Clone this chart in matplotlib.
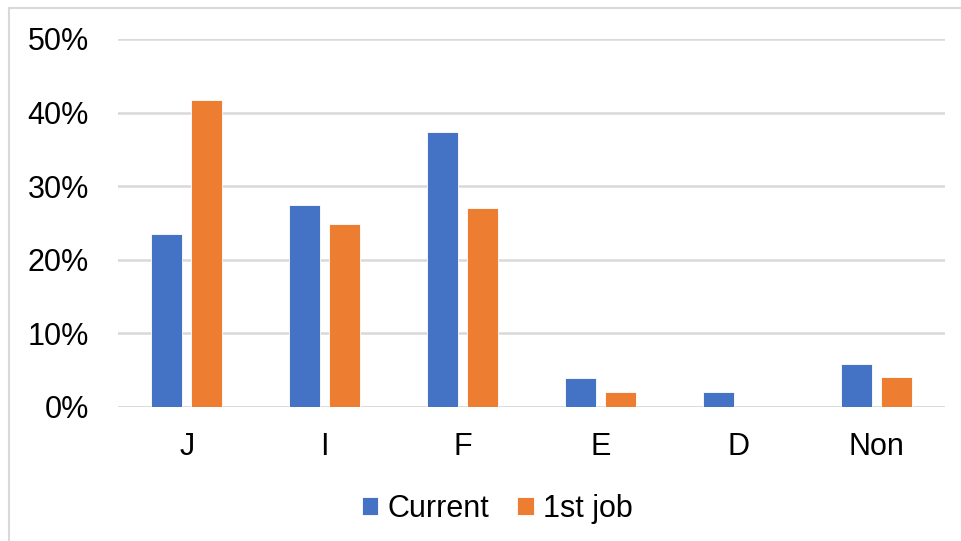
import matplotlib
matplotlib.use("Agg")
import matplotlib.pyplot as plt
import numpy as np
from matplotlib.patches import Rectangle, Patch
from matplotlib.ticker import FuncFormatter, MultipleLocator

categories = ["J", "I", "F", "E", "D", "Non"]
current = [23.5, 27.4, 37.3, 3.9, 2.0, 5.9]
first_job = [41.7, 24.9, 27.0, 2.0, 0.0, 4.1]
series_names = ["Current", "1st job"]

BLUE = "#4472C4"
ORANGE = "#ED7D31"
GRID = "#D9D9D9"

plt.rcParams["font.family"] = ["Liberation Sans", "DejaVu Sans"]

W, H = 961, 541
fig = plt.figure(figsize=(W / 100, H / 100), dpi=100)

# chart frame
fig.patches.append(Rectangle((9 / W, -0.1), 1.2, 1 - 8 / H + 0.1,
                             transform=fig.transFigure, fill=False,
                             edgecolor=GRID, linewidth=1.5, zorder=0))

ax = fig.add_axes([118 / W, 134 / H, (945 - 118) / W, (407 - 39) / H])

x = np.arange(len(categories))
bw = 0.225
off = 0.145
ax.bar(x - off, current, width=bw, color=BLUE, edgecolor="white",
       linewidth=0.6, zorder=3, label=series_names[0])
ax.bar(x + off, first_job, width=bw, color=ORANGE, edgecolor="white",
       linewidth=0.6, zorder=3, label=series_names[1])

ax.set_xlim(-0.5, len(categories) - 0.5)
ax.set_ylim(0, 50)
ax.yaxis.set_major_locator(MultipleLocator(10))
ax.yaxis.set_major_formatter(FuncFormatter(lambda v, p: f"{v:.0f}%"))
ax.set_xticks(x)
ax.set_xticklabels(categories)

ax.grid(axis="y", color=GRID, linewidth=1.8, zorder=0)
ax.set_axisbelow(True)
for s in ["top", "right", "left", "bottom"]:
    ax.spines[s].set_visible(False)
ax.tick_params(axis="both", length=0, labelsize=22, colors="#000000")
ax.tick_params(axis="x", pad=18)
ax.tick_params(axis="y", pad=21)
ax.axhline(0, color=GRID, linewidth=1.8, zorder=1)

handles = [Patch(facecolor=BLUE, edgecolor="white", linewidth=0.6),
           Patch(facecolor=ORANGE, edgecolor="white", linewidth=0.6)]
fig.legend(handles, series_names, loc="center",
           bbox_to_anchor=(497 / W, 1 - 509 / H), ncol=2, frameon=False,
           fontsize=22, handlelength=0.55, handleheight=0.55,
           handletextpad=0.3, columnspacing=0.9)

fig.savefig("out.png", dpi=100, facecolor="white")
